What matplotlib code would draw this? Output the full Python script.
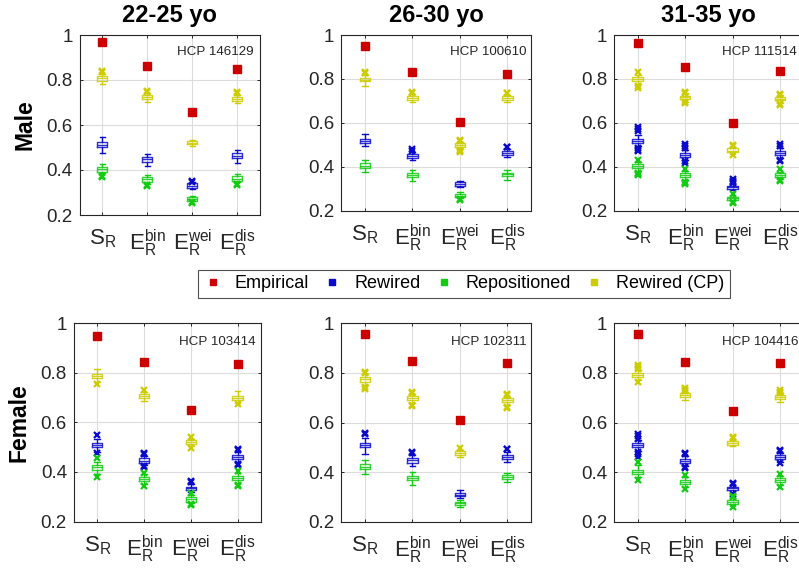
import matplotlib
matplotlib.use("Agg")
import matplotlib.pyplot as plt
from matplotlib.lines import Line2D

plt.rcParams['font.family'] = ['Liberation Sans', 'DejaVu Sans']
plt.rcParams['mathtext.default'] = 'regular'

# ---------------- data ----------------
titles = ['22-25 yo', '26-30 yo', '31-35 yo']
row_labels = ['Male', 'Female']
subjects = ['HCP 146129', 'HCP 100610', 'HCP 111514',
            'HCP 103414', 'HCP 102311', 'HCP 104416']
categories = [r'$\mathregular{S_R}$', r'$\mathregular{E_R^{bin}}$',
              r'$\mathregular{E_R^{wei}}$', r'$\mathregular{E_R^{dis}}$']
series_names = ['Empirical', 'Rewired', 'Repositioned', 'Rewired (CP)']
yticks = [0.2, 0.4, 0.6, 0.8, 1.0]
ytick_labels = ['0.2', '0.4', '0.6', '0.8', '1']

# Empirical values, one row per panel, one column per category
empirical = [
    [0.967, 0.861, 0.656, 0.847],
    [0.949, 0.830, 0.604, 0.822],
    [0.962, 0.853, 0.598, 0.838],
    [0.949, 0.843, 0.650, 0.836],
    [0.957, 0.848, 0.610, 0.840],
    [0.957, 0.843, 0.646, 0.840],
]

# Rewired: [median, q1, q3, whisker low, whisker high] per category
rewired_stats = [
    [[.512, .501, .524, .477, .548], [.448, .437, .459, .419, .470], [.331, .321, .341, .314, .345], [.463, .452, .474, .430, .490]],
    [[.516, .507, .525, .494, .548], [.449, .440, .458, .431, .468], [.321, .314, .329, .310, .335], [.462, .455, .470, .445, .480]],
    [[.517, .507, .526, .495, .545], [.452, .443, .461, .431, .475], [.307, .299, .314, .292, .320], [.462, .453, .470, .440, .485]],
    [[.509, .500, .518, .482, .535], [.446, .438, .455, .428, .465], [.334, .328, .341, .320, .350], [.461, .453, .469, .440, .480]],
    [[.511, .502, .520, .473, .540], [.449, .439, .458, .424, .468], [.310, .303, .317, .295, .327], [.460, .452, .468, .440, .480]],
    [[.510, .502, .518, .485, .530], [.447, .438, .455, .425, .465], [.335, .328, .341, .318, .348], [.460, .452, .468, .440, .478]],
]
rewired_out = [
    [[], [], [.352, .348], []],
    [[], [.479, .474], [], [.492, .488]],
    [[.582, .572, .563, .487, .478, .473], [.504, .495, .486, .425, .416], [.343, .336, .330, .325], [.505, .495, .432, .425]],
    [[.549, .475], [.476, .471, .424, .420], [.364, .358], [.492, .487, .432, .428]],
    [[.553, .557], [.482, .478], [], [.495, .492]],
    [[.553, .545, .536, .482, .472, .462], [.476, .472, .421, .417], [.358, .354, .313], [.490, .486, .437]],
]

# Repositioned
repos_stats = [
    [[.404, .392, .415, .385, .427], [.359, .348, .370, .340, .378], [.272, .264, .281, .262, .285], [.362, .352, .373, .345, .382]],
    [[.405, .393, .416, .375, .432], [.361, .352, .370, .337, .385], [.268, .261, .276, .257, .285], [.365, .358, .373, .342, .386]],
    [[.403, .393, .413, .382, .422], [.361, .352, .370, .342, .380], [.257, .249, .264, .242, .270], [.362, .353, .370, .345, .378]],
    [[.418, .408, .428, .392, .440], [.372, .364, .381, .352, .390], [.289, .280, .298, .275, .308], [.376, .368, .385, .355, .395]],
    [[.422, .412, .432, .392, .450], [.376, .368, .384, .350, .400], [.275, .270, .280, .260, .290], [.380, .372, .388, .360, .398]],
    [[.403, .395, .411, .380, .430], [.362, .352, .371, .342, .382], [.282, .274, .290, .265, .298], [.368, .360, .376, .350, .385]],
]
repos_out = [
    [[.372, .368], [.332, .328], [.258, .254], [.336, .332]],
    [[], [], [.252, .249], []],
    [[.432, .373, .368, .363], [.390, .332, .327, .322], [.276, .238, .234], [.388, .340, .335]],
    [[.455, .381], [.397, .344], [.317, .267, .271], [.405, .345, .348]],
    [[], [], [], []],
    [[.442, .371], [.390, .334], [.305, .300, .260], [.395, .340]],
]

# Rewired (CP)
cp_stats = [
    [[.807, .797, .818, .782, .828], [.725, .716, .733, .704, .742], [.520, .514, .529, .507, .533], [.716, .708, .723, .700, .735]],
    [[.797, .789, .804, .768, .816], [.713, .704, .722, .695, .730], [.498, .489, .507, .482, .512], [.712, .704, .720, .695, .728]],
    [[.800, .792, .807, .775, .820], [.716, .707, .724, .697, .735], [.474, .466, .484, .460, .490], [.710, .702, .718, .690, .725]],
    [[.787, .778, .795, .765, .814], [.706, .697, .715, .685, .722], [.521, .513, .529, .505, .535], [.699, .691, .707, .680, .725]],
    [[.775, .764, .785, .750, .795], [.699, .691, .707, .680, .715], [.477, .469, .485, .460, .490], [.690, .682, .698, .670, .705]],
    [[.790, .782, .798, .770, .812], [.710, .702, .718, .690, .722], [.519, .512, .526, .505, .532], [.702, .694, .710, .685, .718]],
]
cp_out = [
    [[.840, .836], [.752, .748], [], [.745, .741]],
    [[.833, .829], [.742, .737], [.522, .517, .478, .473, .469], [.738, .734]],
    [[.833, .769, .760], [.742, .738, .689, .693], [.500, .496, .455], [.733, .729, .682, .686]],
    [[.755], [.731], [.542, .498], [.673]],
    [[.805, .801, .744, .735], [.725, .721, .673, .669], [.498], [.715, .711, .663, .659]],
    [[.832, .825, .818, .764], [.738, .733, .728], [.542, .537], [.730, .725, .719]],
]

# ---------------- style / layout ----------------
W, H = 799, 571
C_EMP = '#CC0000'
C_REW = '#0A0ACC'
C_REP = '#11CC11'
C_CP = '#CCCC00'
AXC = '#262626'

# axes boxes in pixels: left, right, top, bottom
boxes = [
    (79.8, 259.8, 35.0, 215.0),
    (341.3, 531.0, 35.0, 210.7),
    (614.0, 803.7, 35.0, 210.7),
    (73.9, 261.0, 323.3, 521.5),
    (341.3, 531.0, 323.3, 522.0),
    (614.0, 803.7, 323.3, 522.0),
]
hcp_x = [0.54, 0.573, 0.571, 0.563, 0.578, 0.571]

fig = plt.figure(figsize=(W / 100, H / 100), dpi=100)


def make_stats(stats, outs):
    res = []
    for s, o in zip(stats, outs):
        res.append(dict(med=s[0], q1=s[1], q3=s[2], whislo=s[3], whishi=s[4], fliers=o))
    return res


def draw_series(ax, stats, outs, color):
    lw = 1.0
    ax.bxp(make_stats(stats, outs), positions=[1, 2, 3, 4], widths=0.22,
           capwidths=0.12, showfliers=True, manage_ticks=False,
           boxprops=dict(color=color, lw=lw, alpha=0.85),
           medianprops=dict(color=color, lw=lw, alpha=0.85),
           whiskerprops=dict(color=color, lw=lw),
           capprops=dict(color=color, lw=lw),
           flierprops=dict(marker='x', markeredgecolor=color, markersize=5,
                           markeredgewidth=1.6, linestyle='none'))


for i, (l, r, t, b) in enumerate(boxes):
    ax = fig.add_axes([l / W, 1 - b / H, (r - l) / W, (b - t) / H])
    ax.set_xlim(0.5, 4.5)
    ax.set_ylim(0.2, 1.0)
    ax.set_xticks([1, 2, 3, 4])
    ax.set_xticklabels(categories, fontsize=16, color=AXC)
    ax.set_yticks(yticks)
    ax.set_yticklabels(ytick_labels, fontsize=13.5, color=AXC)
    ax.grid(True, color='#DCDCDC', lw=0.8)
    ax.set_axisbelow(True)
    ax.tick_params(direction='in', length=2.5, width=0.7, color=AXC,
                   top=True, right=True)
    ax.tick_params(axis='x', pad=9)
    ax.tick_params(axis='y', pad=5)
    for sp in ax.spines.values():
        sp.set_color(AXC)
        sp.set_linewidth(0.8)

    draw_series(ax, cp_stats[i], cp_out[i], C_CP)
    draw_series(ax, rewired_stats[i], rewired_out[i], C_REW)
    draw_series(ax, repos_stats[i], repos_out[i], C_REP)
    ax.plot([1, 2, 3, 4], empirical[i], ls='none', marker='s', markersize=6,
            color=C_EMP, zorder=5)

    ax.text(hcp_x[i], 0.905, subjects[i], transform=ax.transAxes,
            fontsize=9.6, ha='left', va='center', color=AXC)
    if i < 3:
        ax.set_title(titles[i], fontsize=17, fontweight='bold', pad=9.5, color='black')

fig.text(25 / W, 1 - 125 / H, row_labels[0], rotation=90, fontsize=16.5,
         fontweight='bold', ha='center', va='center')
fig.text(19 / W, 1 - 423 / H, row_labels[1], rotation=90, fontsize=16.5,
         fontweight='bold', ha='center', va='center')

handles = [Line2D([], [], ls='none', marker='s', markersize=4.5, color=c)
           for c in [C_EMP, C_REW, C_REP, C_CP]]
leg = fig.legend(handles, series_names, loc='center',
                 bbox_to_anchor=(464 / W, 1 - 284 / H), ncol=4, fontsize=13,
                 frameon=True, fancybox=False, edgecolor=AXC,
                 handlelength=1.0, handletextpad=0.7, columnspacing=0.8,
                 borderpad=0.3, borderaxespad=0)
leg.get_frame().set_linewidth(0.8)

fig.savefig('out.png', dpi=100)
